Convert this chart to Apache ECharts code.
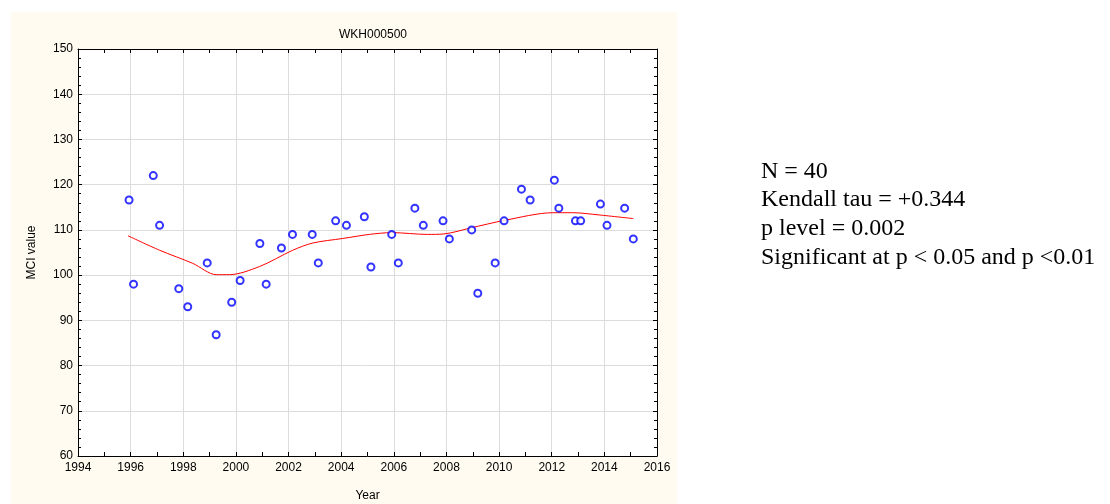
<!DOCTYPE html>
<html>
<head>
<meta charset="utf-8">
<script src="https://cdn.jsdelivr.net/npm/echarts@6/dist/echarts.min.js"></script>
<style>
html,body{margin:0;padding:0;background:#fff;}
#c{width:1110px;height:504px;}
</style>
</head>
<body>
<div id="c"></div>
<script>
const title = 'WKH000500';
const years = [1995.94,1996.11,1996.86,1997.10,1997.83,1998.17,1998.91,1999.25,1999.84,2000.16,
  2000.91,2001.15,2001.73,2002.15,2002.90,2003.13,2003.79,2004.20,2004.88,2005.13,
  2005.92,2006.17,2006.80,2007.12,2007.87,2008.11,2008.96,2009.19,2009.85,2010.19,
  2010.85,2011.18,2012.10,2012.27,2012.90,2013.10,2013.85,2014.10,2014.77,2015.10];
const mciValues = [116.6,98,122,111,97,93,102.7,86.8,94,98.8,
  107,98,106,109,109,102.7,112,111,112.9,101.8,
  109,102.7,114.8,111,112,108,110,96,102.7,112,
  119,116.6,121,114.8,112,112,115.7,111,114.8,108];
const trendYears = [1995.9,1997.1,1998.36,1999.25,1999.76,2000.9,2002.16,2002.92,2004.06,2005.07,2005.92,2007.27,2007.9,2008.9,2010.2,2012.05,2012.8,2013.8,2015.1];
const trendValues = [108.7,105.5,102.6,100.1,100.1,101.9,105.5,107.1,108.1,109,109.4,109,109.1,110.4,112.1,113.8,113.8,113.3,112.5];
const statLines = ['N = 40','Kendall tau = +0.344','p level = 0.002','Significant at p < 0.05 and p <0.01'];

const chart = echarts.init(document.getElementById('c'));
const font = 'Liberation Sans, Arial, sans-serif';
const xBase = {
  type:'value', min:1994, max:2016, interval:2,
  axisLine:{show:true,lineStyle:{color:'#000',width:1}},
  axisTick:{show:true,inside:true,length:4,lineStyle:{color:'#000'}},
  minorTick:{show:true,splitNumber:2,length:4,lineStyle:{color:'#000'}},
};
const yBase = {
  type:'value', min:60, max:150, interval:10,
  axisLine:{show:true,lineStyle:{color:'#000',width:1}},
  axisTick:{show:true,inside:true,length:4,lineStyle:{color:'#000'}},
  minorTick:{show:true,splitNumber:5,length:3,lineStyle:{color:'#000'}},
};
const option = {
  backgroundColor:'#fff',
  animation:false,
  graphic:[
    {type:'rect',z:-10,shape:{x:11,y:12,width:666,height:492},style:{fill:'#FFFBF0'}},
    ...statLines.map((t,i)=>({type:'text',x:761,y:159.5+i*28.6,
      style:{text:t,font:'24px "Liberation Serif", "Times New Roman", serif',fill:'#000'}}))
  ],
  title:{text:title,left:368,top:24,textAlign:'center',
    textStyle:{fontFamily:font,fontSize:12,fontWeight:'normal',color:'#000'}},
  grid:{left:78,top:49,right:453,bottom:48,show:true,backgroundColor:'#fff',borderWidth:0,
    containLabel:false,outerBoundsMode:'none'},
  xAxis:[
    Object.assign({},xBase,{position:'bottom',name:'Year',nameLocation:'middle',nameGap:34,
      nameTextStyle:{fontFamily:font,fontSize:12,color:'#000'},
      axisLabel:{fontFamily:font,fontSize:12,color:'#000',margin:6,formatter:v=>String(v)},
      splitLine:{show:true,lineStyle:{color:'#dcdcdc',width:1}}}),
    Object.assign({},xBase,{position:'top',axisLabel:{show:false},splitLine:{show:false}})
  ],
  yAxis:[
    Object.assign({},yBase,{position:'left',name:'MCI value',nameLocation:'middle',nameGap:40,
      nameTextStyle:{fontFamily:font,fontSize:12,color:'#000'},
      axisLabel:{fontFamily:font,fontSize:12,color:'#000',margin:5},
      splitLine:{show:true,lineStyle:{color:'#dcdcdc',width:1}}}),
    Object.assign({},yBase,{position:'right',axisLabel:{show:false},splitLine:{show:false}})
  ],
  series:[
    {type:'line',data:trendYears.map((x,i)=>[x,trendValues[i]]),smooth:0.3,showSymbol:false,
      lineStyle:{color:'#ff0000',width:1},z:2},
    {type:'scatter',data:years.map((x,i)=>[x,mciValues[i]]),symbol:'circle',symbolSize:7,
      itemStyle:{color:'#fff',borderColor:'#0000ff',borderWidth:2},z:3}
  ]
};
chart.setOption(option);
</script>
</body>
</html>
